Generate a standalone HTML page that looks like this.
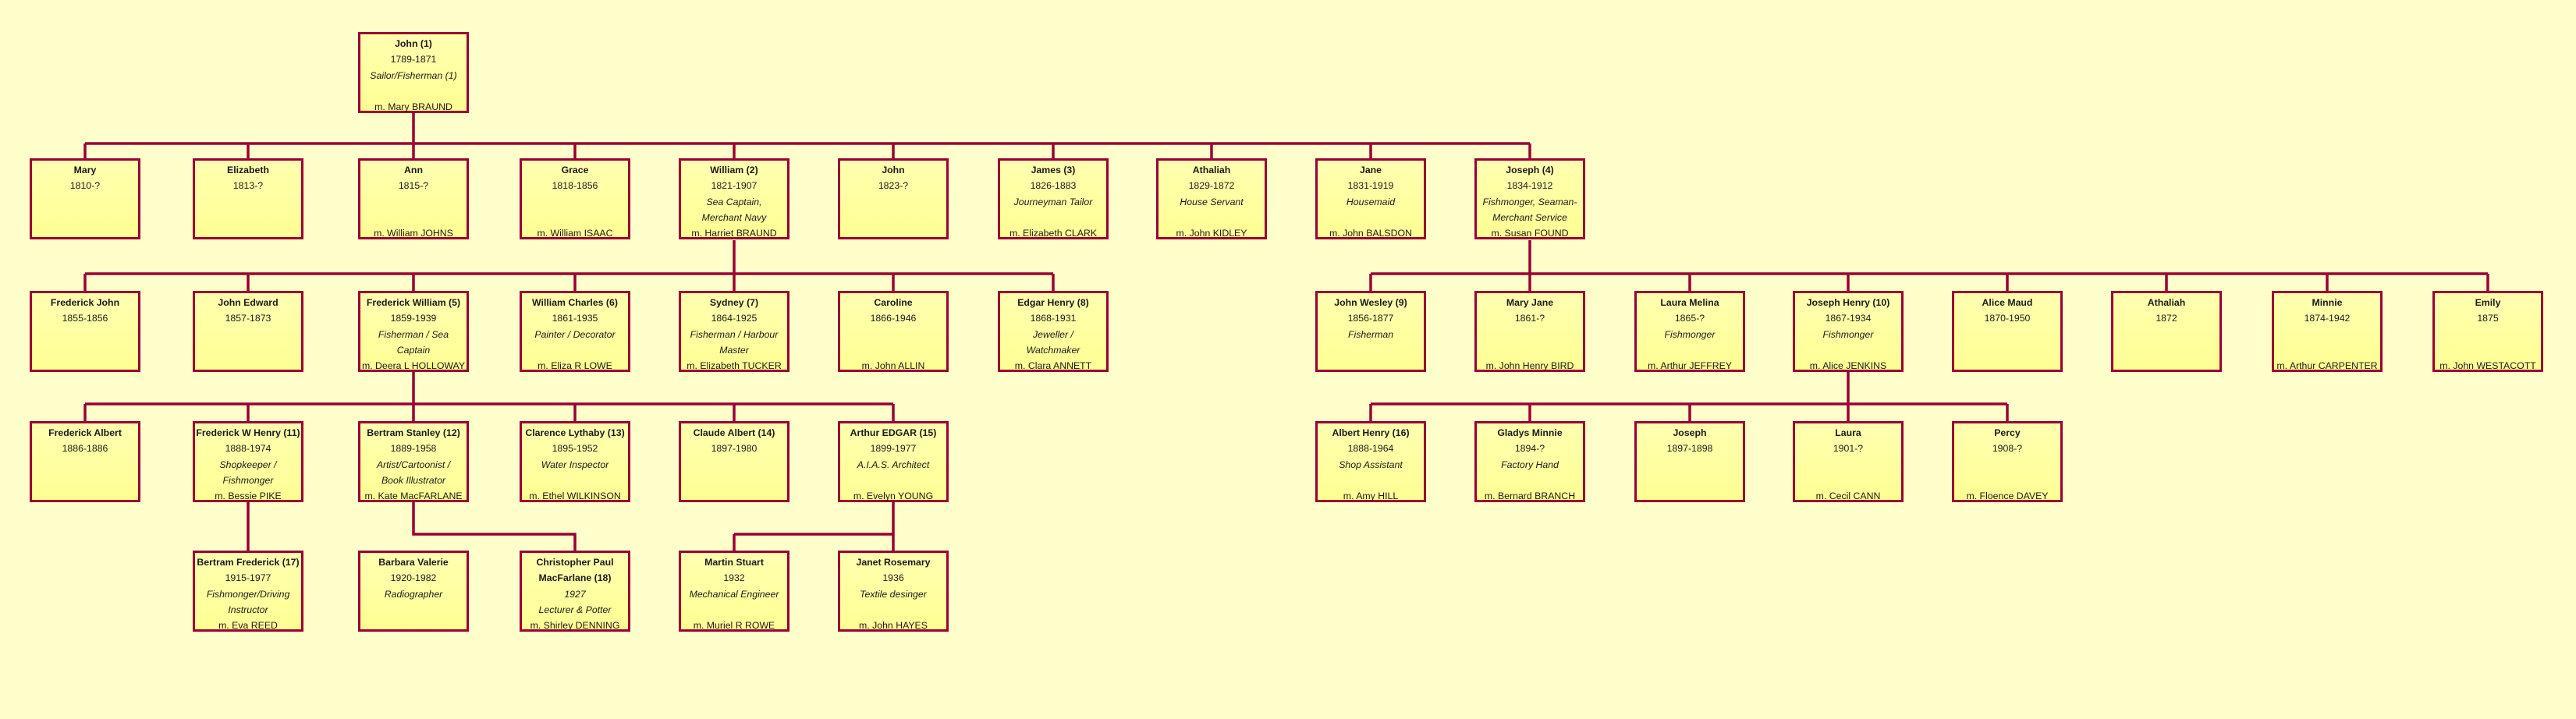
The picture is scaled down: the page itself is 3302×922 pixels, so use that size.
<!DOCTYPE html>
<html><head><meta charset="utf-8"><style>
html,body{margin:0;padding:0}
body{width:3302px;height:922px;background:#ffffcc;position:relative;overflow:hidden;font-family:"Liberation Sans",Arial,sans-serif;color:#1a1a1a}
.b{position:absolute;width:136px;height:96px;border:3.5px solid #990033;background:linear-gradient(#ffffb0,#ffff94);text-align:center;font-size:12.3px;line-height:20.3px;padding-top:2px;white-space:nowrap;overflow:visible;box-sizing:content-box}
.b b{font-weight:bold}
svg{position:absolute;left:0;top:0}
</style></head><body>
<svg width="3302" height="922" stroke="#990033" stroke-width="3.5" fill="none">
<path d="M530 144V184M109 184H1961M109 184V203M318 184V203M530 184V203M737 184V203M941 184V203M1145 184V203M1350 184V203M1553 184V203M1757 184V203M1961 184V203"/>
<path d="M941 308V351M109 351H1350M109 351V373M318 351V373M530 351V373M737 351V373M941 351V373M1145 351V373M1350 351V373"/>
<path d="M1961 308V351M1757 351H3189M1757 351V373M1961 351V373M2166 351V373M2369 351V373M2573 351V373M2777 351V373M2983 351V373M3189 351V373"/>
<path d="M530 476V518M109 518H1145M109 518V540M318 518V540M530 518V540M737 518V540M941 518V540M1145 518V540"/>
<path d="M2369 476V518M1757 518H2573M1757 518V540M1961 518V540M2166 518V540M2369 518V540M2573 518V540"/>
<path d="M318 643V706M530 643V685H737V706M1145 643V706M941 685H1145M941 685V706"/>
</svg>

<div class="b" style="left:459px;top:41px"><b>John (1)</b><br>1789-1871<br><i>Sailor/Fisherman (1)</i><br>&nbsp;<br>m. Mary BRAUND</div>

<div class="b" style="left:38px;top:203px"><b>Mary</b><br>1810-?</div>
<div class="b" style="left:247px;top:203px"><b>Elizabeth</b><br>1813-?</div>
<div class="b" style="left:459px;top:203px"><b>Ann</b><br>1815-?<br>&nbsp;<br>&nbsp;<br>m. William JOHNS</div>
<div class="b" style="left:666px;top:203px"><b>Grace</b><br>1818-1856<br>&nbsp;<br>&nbsp;<br>m. William ISAAC</div>
<div class="b" style="left:870px;top:203px"><b>William (2)</b><br>1821-1907<br><i>Sea Captain,</i><br><i>Merchant Navy</i><br>m. Harriet BRAUND</div>
<div class="b" style="left:1074px;top:203px"><b>John</b><br>1823-?</div>
<div class="b" style="left:1279px;top:203px"><b>James (3)</b><br>1826-1883<br><i>Journeyman Tailor</i><br>&nbsp;<br>m. Elizabeth CLARK</div>
<div class="b" style="left:1482px;top:203px"><b>Athaliah</b><br>1829-1872<br><i>House Servant</i><br>&nbsp;<br>m. John KIDLEY</div>
<div class="b" style="left:1686px;top:203px"><b>Jane</b><br>1831-1919<br><i>Housemaid</i><br>&nbsp;<br>m. John BALSDON</div>
<div class="b" style="left:1890px;top:203px"><b>Joseph (4)</b><br>1834-1912<br><i>Fishmonger, Seaman-</i><br><i>Merchant Service</i><br>m. Susan FOUND</div>

<div class="b" style="left:38px;top:373px"><b>Frederick John</b><br>1855-1856</div>
<div class="b" style="left:247px;top:373px"><b>John Edward</b><br>1857-1873</div>
<div class="b" style="left:459px;top:373px"><b>Frederick William (5)</b><br>1859-1939<br><i>Fisherman / Sea</i><br><i>Captain</i><br>m. Deera L HOLLOWAY</div>
<div class="b" style="left:666px;top:373px"><b>William Charles (6)</b><br>1861-1935<br><i>Painter / Decorator</i><br>&nbsp;<br>m. Eliza R LOWE</div>
<div class="b" style="left:870px;top:373px"><b>Sydney (7)</b><br>1864-1925<br><i>Fisherman / Harbour</i><br><i>Master</i><br>m. Elizabeth TUCKER</div>
<div class="b" style="left:1074px;top:373px"><b>Caroline</b><br>1866-1946<br>&nbsp;<br>&nbsp;<br>m. John ALLIN</div>
<div class="b" style="left:1279px;top:373px"><b>Edgar Henry (8)</b><br>1868-1931<br><i>Jeweller /</i><br><i>Watchmaker</i><br>m. Clara ANNETT</div>
<div class="b" style="left:1686px;top:373px"><b>John Wesley (9)</b><br>1856-1877<br><i>Fisherman</i></div>
<div class="b" style="left:1890px;top:373px"><b>Mary Jane</b><br>1861-?<br>&nbsp;<br>&nbsp;<br>m. John Henry BIRD</div>
<div class="b" style="left:2095px;top:373px"><b>Laura Melina</b><br>1865-?<br><i>Fishmonger</i><br>&nbsp;<br>m. Arthur JEFFREY</div>
<div class="b" style="left:2298px;top:373px"><b>Joseph Henry (10)</b><br>1867-1934<br><i>Fishmonger</i><br>&nbsp;<br>m. Alice JENKINS</div>
<div class="b" style="left:2502px;top:373px"><b>Alice Maud</b><br>1870-1950</div>
<div class="b" style="left:2706px;top:373px"><b>Athaliah</b><br>1872</div>
<div class="b" style="left:2912px;top:373px"><b>Minnie</b><br>1874-1942<br>&nbsp;<br>&nbsp;<br>m. Arthur CARPENTER</div>
<div class="b" style="left:3118px;top:373px"><b>Emily</b><br>1875<br>&nbsp;<br>&nbsp;<br>m. John WESTACOTT</div>

<div class="b" style="left:38px;top:540px"><b>Frederick Albert</b><br>1886-1886</div>
<div class="b" style="left:247px;top:540px"><b>Frederick W Henry (11)</b><br>1888-1974<br><i>Shopkeeper /</i><br><i>Fishmonger</i><br>m. Bessie PIKE</div>
<div class="b" style="left:459px;top:540px"><b>Bertram Stanley (12)</b><br>1889-1958<br><i>Artist/Cartoonist /</i><br><i>Book Illustrator</i><br>m. Kate MacFARLANE</div>
<div class="b" style="left:666px;top:540px"><b>Clarence Lythaby (13)</b><br>1895-1952<br><i>Water Inspector</i><br>&nbsp;<br>m. Ethel WILKINSON</div>
<div class="b" style="left:870px;top:540px"><b>Claude Albert (14)</b><br>1897-1980</div>
<div class="b" style="left:1074px;top:540px"><b>Arthur EDGAR (15)</b><br>1899-1977<br><i>A.I.A.S. Architect</i><br>&nbsp;<br>m. Evelyn YOUNG</div>
<div class="b" style="left:1686px;top:540px"><b>Albert Henry (16)</b><br>1888-1964<br><i>Shop Assistant</i><br>&nbsp;<br>m. Amy HILL</div>
<div class="b" style="left:1890px;top:540px"><b>Gladys Minnie</b><br>1894-?<br><i>Factory Hand</i><br>&nbsp;<br>m. Bernard BRANCH</div>
<div class="b" style="left:2095px;top:540px"><b>Joseph</b><br>1897-1898</div>
<div class="b" style="left:2298px;top:540px"><b>Laura</b><br>1901-?<br>&nbsp;<br>&nbsp;<br>m. Cecil CANN</div>
<div class="b" style="left:2502px;top:540px"><b>Percy</b><br>1908-?<br>&nbsp;<br>&nbsp;<br>m. Floence DAVEY</div>

<div class="b" style="left:247px;top:706px"><b>Bertram Frederick (17)</b><br>1915-1977<br><i>Fishmonger/Driving</i><br><i>Instructor</i><br>m. Eva REED</div>
<div class="b" style="left:459px;top:706px"><b>Barbara Valerie</b><br>1920-1982<br><i>Radiographer</i></div>
<div class="b" style="left:666px;top:706px"><b>Christopher Paul</b><br><b>MacFarlane (18)</b><br><i>1927</i><br><i>Lecturer &amp; Potter</i><br>m. Shirley DENNING</div>
<div class="b" style="left:870px;top:706px"><b>Martin Stuart</b><br>1932<br><i>Mechanical Engineer</i><br>&nbsp;<br>m. Muriel R ROWE</div>
<div class="b" style="left:1074px;top:706px"><b>Janet Rosemary</b><br>1936<br><i>Textile desinger</i><br>&nbsp;<br>m. John HAYES</div>
</body></html>
